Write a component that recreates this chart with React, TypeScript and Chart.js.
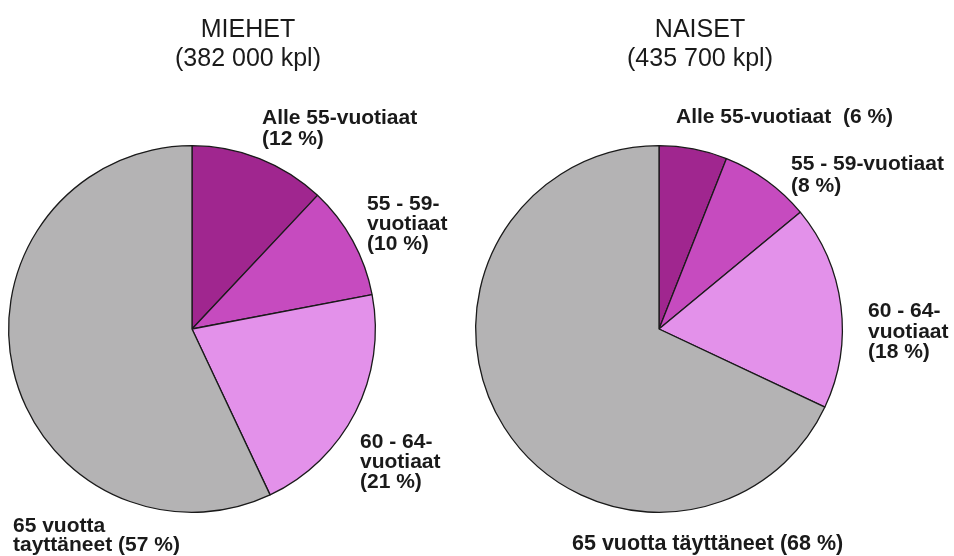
import React, { useEffect, useRef } from "react";
import { Chart, registerables } from "chart.js";

Chart.register(...registerables);

// ---- data ----
const categories = ["Alle 55-vuotiaat", "55 - 59-vuotiaat", "60 - 64-vuotiaat", "65 vuotta täyttäneet"];
const menValues = [12, 10, 21, 57];
const womenValues = [6, 8, 18, 68];
const menTitle = ["MIEHET", "(382 000 kpl)"];
const womenTitle = ["NAISET", "(435 700 kpl)"];
const menLabels = [
  ["Alle 55-vuotiaat", "(12 %)"],
  ["55 - 59-", "vuotiaat", "(10 %)"],
  ["60 - 64-", "vuotiaat", "(21 %)"],
  ["65 vuotta", "tayttäneet (57 %)"],
];
const womenLabels = [
  ["Alle 55-vuotiaat  (6 %)"],
  ["55 - 59-vuotiaat", "(8 %)"],
  ["60 - 64-", "vuotiaat", "(18 %)"],
  ["65 vuotta täyttäneet (68 %)"],
];

// ---- styles ----
const sliceColors = ["#a0268f", "#c64bbf", "#e391ea", "#b4b3b4"];
const textColor = "#1a1a1a";

type Placement = { x: number; y: number; lineH: number };

interface PieSpec {
  values: number[];
  title: string[];
  labels: string[][];
  canvasLeft: number;
  canvasWidth: number;
  padding: { left: number; right: number; top: number; bottom: number };
  titleX: number;
  titleBaselines: number[];
  labelPlacements: Placement[];
}

const specs: PieSpec[] = [
  {
    values: menValues,
    title: menTitle,
    labels: menLabels,
    canvasLeft: 0,
    canvasWidth: 460,
    padding: { left: 8, right: 84, top: 145, bottom: 43 },
    titleX: 248,
    titleBaselines: [37, 66],
    labelPlacements: [
      { x: 262, y: 124, lineH: 21 },
      { x: 367, y: 210, lineH: 20 },
      { x: 360, y: 448, lineH: 20 },
      { x: 13, y: 532, lineH: 19 },
    ],
  },
  {
    values: womenValues,
    title: womenTitle,
    labels: womenLabels,
    canvasLeft: 460,
    canvasWidth: 494,
    padding: { left: 15, right: 111, top: 145, bottom: 43 },
    titleX: 240,
    titleBaselines: [37, 66],
    labelPlacements: [
      { x: 216, y: 123, lineH: 21 },
      { x: 331, y: 170, lineH: 22 },
      { x: 408, y: 317, lineH: 20.5 },
      { x: 112, y: 550, lineH: 20 },
    ],
  },
];

function PieChart({ spec }: { spec: PieSpec }) {
  const ref = useRef<HTMLCanvasElement | null>(null);
  useEffect(() => {
    if (!ref.current) return;
    const textPlugin = {
      id: "textPlugin",
      afterDraw(chart: any) {
        const ctx = chart.ctx as CanvasRenderingContext2D;
        ctx.save();
        ctx.fillStyle = textColor;
        ctx.textBaseline = "alphabetic";
        ctx.textAlign = "center";
        ctx.font = "25px 'Liberation Sans', Arial, sans-serif";
        spec.title.forEach((t, i) => ctx.fillText(t, spec.titleX, spec.titleBaselines[i]));
        ctx.textAlign = "left";
        spec.labels.forEach((lines, i) => {
          const p = spec.labelPlacements[i];
          ctx.font = (i === 3 && lines.length === 1 ? "bold 21.5px" : "bold 21px") + " 'Liberation Sans', Arial, sans-serif";
          lines.forEach((line, j) => ctx.fillText(line, p.x, p.y + j * p.lineH));
        });
        ctx.restore();
      },
    };
    const chart = new Chart(ref.current, {
      type: "pie",
      data: {
        labels: categories,
        datasets: [
          {
            data: spec.values,
            backgroundColor: sliceColors,
            borderColor: "#1a1a1a",
            borderWidth: 1.3,
            borderAlign: "center",
          } as any,
        ],
      },
      options: {
        responsive: false,
        animation: false,
        layout: { padding: spec.padding },
        plugins: {
          legend: { display: false },
          tooltip: { enabled: false },
          title: { display: false },
        },
      },
      plugins: [textPlugin],
    });
    return () => chart.destroy();
  }, [spec]);
  return (
    <canvas
      ref={ref}
      width={spec.canvasWidth}
      height={556}
      style={{
        position: "absolute",
        left: spec.canvasLeft,
        top: 0,
        width: spec.canvasWidth,
        height: 556,
      }}
    />
  );
}

export default function App() {
  return (
    <div
      style={{
        position: "absolute",
        left: 0,
        top: 0,
        width: 954,
        height: 556,
        background: "#ffffff",
        overflow: "hidden",
      }}
    >
      {specs.map((s, i) => (
        <PieChart key={i} spec={s} />
      ))}
    </div>
  );
}
